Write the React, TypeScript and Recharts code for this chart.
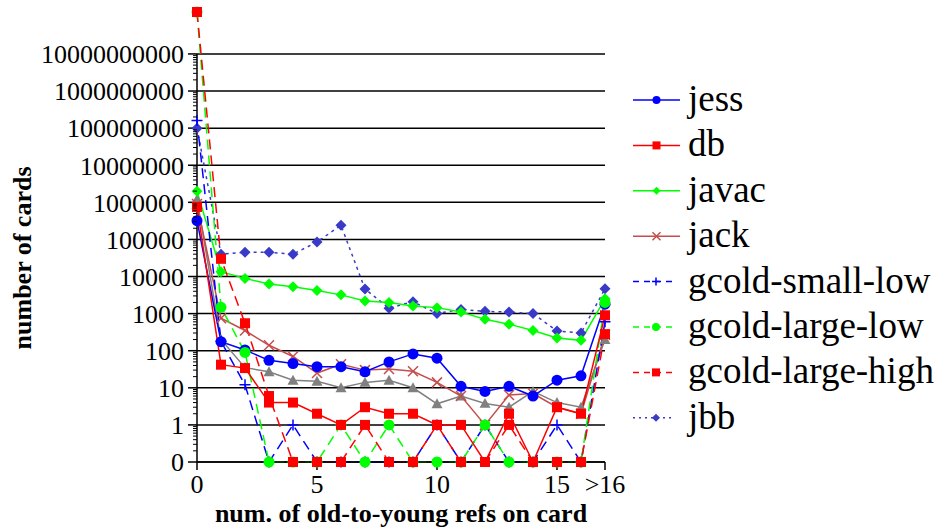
import React from 'react';
import { LineChart, Line, XAxis, YAxis, ReferenceLine } from 'recharts';

// x position 17 stands for the ">16" bucket
const refCounts = [0, 1, 2, 3, 4, 5, 6, 7, 8, 9, 10, 11, 12, 13, 14, 15, 16, 17];
const xTicks = [0, 5, 10, 15, 17];
const yTicks = [0.1, 1, 10, 100, 1000, 10000, 100000, 1000000, 10000000, 100000000, 1000000000, 10000000000];

const jess = [320000, 175, 105, 55, 45, 37, 37, 27, 50, 82, 63, 11, 8, 11, 6, 16, 21, 1800];
const db = [750000, 42, 34, 4, 4, 2, 1, 3, 2, 2, 1, 1, 0, 2, 0, 3, 2, 900];
const javac = [2000000, 13500, 8900, 6300, 5300, 4200, 3200, 2200, 2000, 1600, 1450, 1100, 700, 520, 350, 220, 190, 2500];
const jack = [900000, 750, 350, 140, 70, 25, 43, 30, 32, 28, 14, 6, 1, 6.4, 7, 3, 2, 270];
const other = [1200000, 200, 35, 27, 16, 15, 10, 14, 16, 10, 3.7, 6, 3.8, 3, 8, 4, 3, 200];
const gcoldSmallLow = [160000000, 180, 12, 0, 1, 0, 0, 0, 0, 0, 1, 0, 1, 0, 0, 1, 0, 600];
const gcoldLargeLow = [135000000000, 1480, 90, 0, 0, 0, 1, 0, 1, 0, 0, 0, 1, 0, 0, 0, 0, 2000];
const gcoldLargeHigh = [135000000000, 30000, 550, 6, 0, 0, 0, 1, 0, 0, 1, 0, 0, 1, 0, 0, 0, 280];
const jbb = [100000000, 40000, 45000, 45000, 40000, 85000, 240000, 4600, 1400, 2100, 1000, 1300, 1150, 1100, 1000, 340, 300, 4700];

// zero counts are drawn on the "0" row, one decade below 1
const ZERO = 0.1;

type Shape = 'circle' | 'square' | 'diamond' | 'cross' | 'plus' | 'triangle';

interface SeriesDef {
  key: string;
  name: string;
  values: number[];
  color: string;
  shape: Shape;
  dash?: string;
  inLegend: boolean;
}

const series: SeriesDef[] = [
  { key: 'other', name: 'other', values: other, color: '#808080', shape: 'triangle', inLegend: false },
  { key: 'jbb', name: 'jbb', values: jbb, color: '#3a3ac8', shape: 'diamond', dash: '3 4', inLegend: true },
  { key: 'javac', name: 'javac', values: javac, color: '#00ff00', shape: 'diamond', inLegend: true },
  { key: 'jack', name: 'jack', values: jack, color: '#c44d4d', shape: 'cross', inLegend: true },
  { key: 'jess', name: 'jess', values: jess, color: '#0000ff', shape: 'circle', inLegend: true },
  { key: 'gcoldSmallLow', name: 'gcold-small-low', values: gcoldSmallLow, color: '#0000ff', shape: 'plus', dash: '10 6', inLegend: true },
  { key: 'gcoldLargeLow', name: 'gcold-large-low', values: gcoldLargeLow, color: '#00ff00', shape: 'circle', dash: '10 6', inLegend: true },
  { key: 'gcoldLargeHigh', name: 'gcold-large-high', values: gcoldLargeHigh, color: '#ff0000', shape: 'square', dash: '10 6', inLegend: true },
  { key: 'db', name: 'db', values: db, color: '#ff0000', shape: 'square', inLegend: true },
];

const legendOrder = ['jess', 'db', 'javac', 'jack', 'gcoldSmallLow', 'gcoldLargeLow', 'gcoldLargeHigh', 'jbb'];

const chartData = refCounts.map((x, i) => {
  const row: Record<string, number> = { x };
  series.forEach((s) => {
    row[s.key] = s.values[i] === 0 ? ZERO : s.values[i];
  });
  return row;
});

const WIDTH = 940;
const HEIGHT = 531;
const PLOT_LEFT = 197;
const PLOT_RIGHT = 605;
const PLOT_TOP = 12;
const PLOT_BOTTOM = 462;
const FONT = '"Liberation Serif", "Times New Roman", serif';

const maxValue = Math.max(...series.map((s) => Math.max(...s.values)));
const DECADE_PX = (PLOT_BOTTOM - PLOT_TOP) / (Math.log10(maxValue) - Math.log10(ZERO));

function Marker({ shape, cx, cy, color, size }: { shape: Shape; cx: number; cy: number; color: string; size: number }) {
  const h = size / 2;
  switch (shape) {
    case 'circle':
      return <circle cx={cx} cy={cy} r={h} fill={color} />;
    case 'square':
      return <rect x={cx - h} y={cy - h} width={size} height={size} fill={color} />;
    case 'diamond':
      return <polygon points={`${cx},${cy - h} ${cx + h},${cy} ${cx},${cy + h} ${cx - h},${cy}`} fill={color} />;
    case 'triangle':
      return <polygon points={`${cx},${cy - h} ${cx + h},${cy + h * 0.8} ${cx - h},${cy + h * 0.8}`} fill={color} />;
    case 'cross':
      return (
        <path
          d={`M${cx - h},${cy - h}L${cx + h},${cy + h}M${cx - h},${cy + h}L${cx + h},${cy - h}`}
          stroke={color}
          strokeWidth={1.5}
          fill="none"
        />
      );
    case 'plus':
      return (
        <path d={`M${cx - h},${cy}L${cx + h},${cy}M${cx},${cy - h}L${cx},${cy + h}`} stroke={color} strokeWidth={1.5} fill="none" />
      );
    default:
      return null;
  }
}

const markerSize: Record<Shape, number> = {
  circle: 11,
  square: 10,
  diamond: 11,
  cross: 10,
  plus: 11,
  triangle: 11,
};

// y tick: label plus the minor log ticks of the decade below it
const YTick = (props: any) => {
  const { x, y, payload } = props;
  const v = payload.value;
  const minors = v > ZERO * 1.5 ? [2, 3, 4, 5, 6, 7, 8, 9].map((k) => y + DECADE_PX * (1 - Math.log10(k))) : [];
  return (
    <g>
      <text x={x} y={y} dy="0.36em" textAnchor="end" fontSize={26} fontFamily={FONT} fill="#000">
        {v < 1 ? '0' : String(Math.round(v))}
      </text>
      {minors.map((my, i) => (
        <line key={i} x1={PLOT_LEFT - 4} x2={PLOT_LEFT} y1={my} y2={my} stroke="#000" strokeWidth={1} />
      ))}
    </g>
  );
};

const YTitle = () => {
  const cy = PLOT_BOTTOM - (DECADE_PX * 11) / 2;
  const cx = 31;
  return (
    <text
      x={cx}
      y={cy}
      transform={`rotate(-90 ${cx} ${cy})`}
      textAnchor="middle"
      fontSize={26}
      fontWeight="bold"
      fontFamily={FONT}
      fill="#000"
    >
      number of cards
    </text>
  );
};

function ChartLegend() {
  const top = 100;
  const step = 45.4;
  return (
    <svg width={WIDTH} height={HEIGHT} style={{ position: 'absolute', left: 0, top: 0, pointerEvents: 'none' }}>
      {legendOrder.map((key, i) => {
        const s = series.find((d) => d.key === key)!;
        const cy = top + i * step;
        const dashed = !!s.dash;
        const x2 = dashed ? 672 : 680;
        const mx = dashed ? 656 : 656.5;
        return (
          <g key={key}>
            <line
              x1={633}
              x2={x2}
              y1={cy}
              y2={cy}
              stroke={s.color}
              strokeWidth={1.5}
              strokeDasharray={s.key === 'jbb' ? '2 4' : dashed ? '6 5' : undefined}
            />
            <Marker shape={s.shape} cx={mx} cy={cy} color={s.color} size={8} />
            <text x={688} y={cy + 11} fontSize={37} fontFamily={FONT} fill="#000">
              {s.name}
            </text>
          </g>
        );
      })}
    </svg>
  );
}

export default function App() {
  return (
    <div style={{ position: 'absolute', left: 0, top: 0, width: WIDTH, height: HEIGHT, background: '#fff' }}>
      <LineChart
        width={WIDTH}
        height={HEIGHT}
        data={chartData}
        margin={{ top: PLOT_TOP, right: WIDTH - PLOT_RIGHT, bottom: 0, left: 0 }}
      >
        <XAxis
          dataKey="x"
          type="number"
          domain={[0, 17]}
          ticks={xTicks}
          tickFormatter={(v: number) => (v === 17 ? '>16' : String(v))}
          tick={{ fontSize: 26, fontFamily: FONT, fill: '#000' }}
          tickSize={8}
          tickMargin={5}
          tickLine={{ stroke: '#000', strokeWidth: 1.5 }}
          axisLine={{ stroke: '#000', strokeWidth: 1.5 }}
          height={HEIGHT - PLOT_BOTTOM}
          label={{
            value: 'num. of old-to-young refs on card',
            position: 'insideBottom',
            offset: 9,
            style: { fontSize: 26, fontWeight: 'bold', fontFamily: FONT, fill: '#000' },
          }}
        />
        <YAxis
          type="number"
          scale="log"
          domain={[ZERO, 'dataMax']}
          ticks={yTicks}
          interval={0}
          tick={<YTick />}
          tickSize={9}
          tickMargin={4}
          tickLine={{ stroke: '#000', strokeWidth: 1.5 }}
          axisLine={false}
          width={PLOT_LEFT}
          label={<YTitle />}
        />
        {/* horizontal gridlines at the decade ticks only */}
        {yTicks.map((t) => (
          <ReferenceLine key={t} y={t} stroke="#000" strokeWidth={1.5} />
        ))}
        <ReferenceLine
          segment={[
            { x: 0, y: ZERO },
            { x: 0, y: yTicks[yTicks.length - 1] },
          ]}
          stroke="#000"
          strokeWidth={1.5}
        />
        {series.map((s) => (
          <Line
            key={s.key}
            dataKey={s.key}
            name={s.name}
            type="linear"
            stroke={s.color}
            strokeWidth={1.5}
            strokeDasharray={s.dash}
            isAnimationActive={false}
            activeDot={false}
            dot={(p: any) => (
              <Marker
                key={`${s.key}-${p.index}`}
                shape={s.shape}
                cx={p.cx}
                cy={p.cy}
                color={s.color}
                size={markerSize[s.shape]}
              />
            )}
          />
        ))}
      </LineChart>
      <ChartLegend />
    </div>
  );
}
